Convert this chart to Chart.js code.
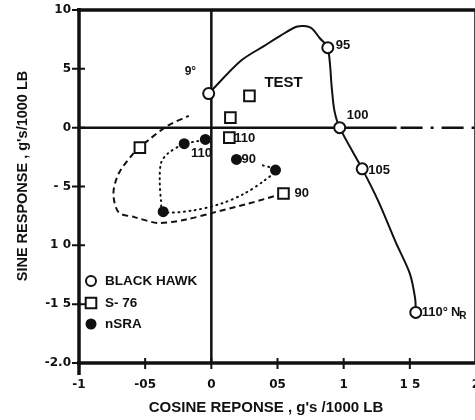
<!DOCTYPE html>
<html>
<head>
<meta charset="utf-8">
<script src="https://cdn.jsdelivr.net/npm/chart.js@4"></script>
<style>
  html, body { margin: 0; padding: 0; background: #fff; overflow: hidden; }
  canvas { display: block; }
</style>
</head>
<body>
<canvas id="chart" width="490" height="420"></canvas>
<script>
// tick labels as printed on the axes
const xTickLabels = ['-1', '-05', '0', '05', '1', '1 5', '2'];
const yTickLabels = ['-2.0', '-1 5', '1 0', '- 5', '0', '5', '10'];

// Black Hawk: rotor speed points + faired curve
const bhLabels = ['9°', '95', '100', '105', '110°'];
const bhX = [-0.02, 0.88, 0.97, 1.14, 1.545];
const bhY = [0.29, 0.68, 0.0, -0.35, -1.57];
const bhCurveX = [-0.02, 0.225, 0.40, 0.52, 0.65, 0.75, 0.82, 0.88, 0.91, 0.93, 0.97, 1.14, 1.26, 1.40, 1.50, 1.54, 1.545];
const bhCurveY = [0.29, 0.57, 0.695, 0.78, 0.86, 0.85, 0.76, 0.68, 0.34, 0.145, 0.0, -0.35, -0.62, -0.99, -1.24, -1.45, -1.57];

// S-76
const s76Labels = ['90', '', '', '110'];
const s76X = [0.545, -0.54, 0.144, 0.136];
const s76Y = [-0.56, -0.17, 0.085, -0.085];
const s76CurveX = [0.545, 0.265, 0.023, -0.19, -0.40, -0.58, -0.70, -0.74, -0.70, -0.59, -0.54, -0.48, -0.33, -0.17];
const s76CurveY = [-0.56, -0.65, -0.72, -0.78, -0.81, -0.76, -0.72, -0.56, -0.39, -0.22, -0.17, -0.11, 0.017, 0.10];
const testX = [0.288];
const testY = [0.27];

// NSRA
const nsraLabels = ['90', '', '', '', '110'];
const nsraX = [0.19, 0.485, -0.364, -0.205, -0.045];
const nsraY = [-0.27, -0.36, -0.714, -0.136, -0.10];
const nsraCurveX = [0.39, 0.485, 0.40, 0.25, 0.076, -0.15, -0.364, -0.38, -0.39, -0.38, -0.33, -0.205, -0.13, -0.045];
const nsraCurveY = [-0.32, -0.36, -0.45, -0.56, -0.645, -0.705, -0.714, -0.62, -0.45, -0.30, -0.22, -0.136, -0.12, -0.10];

const ink = '#111';
const sans = "'Liberation Sans', Arial, sans-serif";
const tickFont = { family: "'DejaVu Sans', sans-serif", size: 12, weight: 'bold' };

const pts = (xs, ys) => xs.map((x, i) => ({ x, y: ys[i] }));

// where each label sits relative to its marker (px)
const bhOffsets = [[-24, -22], [8, -2], [7, -12], [6, 2], [6, 0]];
const s76Offsets = [[11, 0], null, null, [5, 1]];
const nsraOffsets = [[5, 0], null, null, null, [-4, 14]];

const marker = (data, style, r, fill) => ({
  data, showLine: false, pointStyle: style, pointRadius: r,
  pointBackgroundColor: fill, pointBorderColor: ink, pointBorderWidth: 2
});
const curve = (data, dash, cap) => ({
  data, showLine: true, borderColor: ink, borderWidth: 2, borderDash: dash,
  borderCapStyle: cap || 'butt', pointRadius: 0, tension: 0.3, fill: false
});

// frame, zero lines and crossing tick marks
const frame = {
  id: 'frame',
  beforeDatasetsDraw(chart) {
    const { ctx, chartArea: a, scales: { x, y } } = chart;
    ctx.save();
    ctx.strokeStyle = ink;
    ctx.lineWidth = 3.5;
    ctx.beginPath();
    ctx.moveTo(a.left - 2, a.top); ctx.lineTo(a.right + 2, a.top);
    ctx.moveTo(a.left, a.top - 2); ctx.lineTo(a.left, a.bottom + 12);
    ctx.moveTo(a.left - 2, a.bottom); ctx.lineTo(a.right + 2, a.bottom);
    ctx.moveTo(a.right, a.top); ctx.lineTo(a.right, a.bottom);
    ctx.stroke();

    const x0 = x.getPixelForValue(0), y0 = y.getPixelForValue(0);
    ctx.lineWidth = 2.5;
    ctx.beginPath();
    ctx.moveTo(x0, a.top); ctx.lineTo(x0, a.bottom);
    ctx.moveTo(a.left, y0); ctx.lineTo(x.getPixelForValue(1.4), y0);
    ctx.stroke();
    ctx.setLineDash([22, 8, 3, 8]);
    ctx.beginPath();
    ctx.moveTo(x.getPixelForValue(1.4) + 4, y0); ctx.lineTo(a.right, y0);
    ctx.stroke();
    ctx.setLineDash([]);

    ctx.lineWidth = 2;
    ctx.beginPath();
    y.ticks.forEach(t => {
      const py = y.getPixelForValue(t.value);
      ctx.moveTo(a.left - 7, py); ctx.lineTo(a.left + 6, py);
    });
    x.ticks.forEach(t => {
      const px = x.getPixelForValue(t.value);
      ctx.moveTo(px, a.bottom - 5); ctx.lineTo(px, a.bottom + 6);
    });
    ctx.stroke();
    ctx.restore();
  }
};

function tag(ctx, text, px, py, font, align) {
  ctx.font = font;
  ctx.textAlign = align || 'left';
  ctx.textBaseline = 'middle';
  ctx.fillText(text, px, py);
}

// point labels, legend and axis titles
const notes = {
  id: 'notes',
  afterDatasetsDraw(chart) {
    const { ctx, chartArea: a, scales: { x, y } } = chart;
    const lblFont = 'bold 13px ' + sans;
    ctx.save();
    ctx.fillStyle = ink;

    bhLabels.forEach((t, i) => {
      const px = x.getPixelForValue(bhX[i]) + bhOffsets[i][0];
      const py = y.getPixelForValue(bhY[i]) + bhOffsets[i][1];
      tag(ctx, t, px, py, i === 0 ? 'bold 12px ' + sans : lblFont);
      if (i === bhLabels.length - 1) {
        ctx.font = lblFont;
        const w = ctx.measureText(t).width + 3;
        tag(ctx, 'N', px + w, py, lblFont);
        const wn = ctx.measureText('N').width;
        tag(ctx, 'R', px + w + wn - 1, py + 4, 'bold 10px ' + sans);
      }
    });
    s76Labels.forEach((t, i) => {
      if (!t) return;
      tag(ctx, t, x.getPixelForValue(s76X[i]) + s76Offsets[i][0],
        y.getPixelForValue(s76Y[i]) + s76Offsets[i][1], lblFont);
    });
    nsraLabels.forEach((t, i) => {
      if (!t) return;
      tag(ctx, t, x.getPixelForValue(nsraX[i]) + nsraOffsets[i][0],
        y.getPixelForValue(nsraY[i]) + nsraOffsets[i][1], lblFont, i === 4 ? 'center' : 'left');
    });
    tag(ctx, 'TEST', x.getPixelForValue(testX[0]) + 15, y.getPixelForValue(testY[0]) - 13, 'bold 15px ' + sans);

    // legend
    const lx = a.left + 12;
    const rows = [
      ['BLACK HAWK', 'circle', 5, '#fff', -82],
      ['S- 76', 'rect', 7.5, '#fff', -60],
      ['nSRA', 'circle', 4.5, ink, -39]
    ];
    rows.forEach(([text, style, r, fill, dy]) => {
      const py = a.bottom + dy;
      ctx.fillStyle = fill;
      ctx.strokeStyle = ink;
      ctx.lineWidth = 2;
      Chart.helpers.drawPoint(ctx, { pointStyle: style, radius: r, rotation: 0, borderWidth: 2 }, lx, py);
      ctx.fillStyle = ink;
      tag(ctx, text, lx + 14, py, 'bold 13.5px ' + sans);
    });

    // axis titles
    ctx.font = 'bold 15px ' + sans;
    ctx.textAlign = 'center';
    ctx.textBaseline = 'alphabetic';
    ctx.fillText("COSINE REPONSE , g's /1000 LB", 266, 412);
    ctx.translate(27, 176);
    ctx.rotate(-Math.PI / 2);
    ctx.font = 'bold 14.5px ' + sans;
    ctx.fillText("SINE RESPONSE , g's/1000 LB", 0, 0);
    ctx.restore();
  }
};

new Chart(document.getElementById('chart'), {
  type: 'scatter',
  data: {
    datasets: [
      marker(pts(bhX, bhY), 'circle', 5.5, '#fff'),
      marker(pts(s76X, s76Y), 'rect', 7.5, '#fff'),
      marker(pts(testX, testY), 'rect', 7.5, '#fff'),
      marker(pts(nsraX, nsraY), 'circle', 4.5, ink),
      curve(pts(bhCurveX, bhCurveY), []),
      curve(pts(s76CurveX, s76CurveY), [6, 4]),
      curve(pts(nsraCurveX, nsraCurveY), [1, 4.5], 'round')
    ]
  },
  options: {
    responsive: false,
    animation: false,
    events: [],
    layout: { padding: { top: 10, right: 14, left: 0, bottom: 0 } },
    plugins: { legend: { display: false }, tooltip: { enabled: false } },
    scales: {
      x: {
        type: 'linear', min: -1, max: 2,
        ticks: { stepSize: 0.5, padding: 15, maxRotation: 0, color: ink, font: tickFont,
          callback: (v, i) => xTickLabels[i] },
        grid: { display: false, drawTicks: false },
        border: { display: false },
        afterFit: s => { s.height = 57; s.paddingLeft = 0; s.paddingRight = 0; }
      },
      y: {
        type: 'linear', min: -2, max: 1,
        ticks: { stepSize: 0.5, padding: 8, color: ink, font: tickFont,
          callback: (v, i) => yTickLabels[i] },
        grid: { display: false, drawTicks: false },
        border: { display: false },
        afterFit: s => { s.width = 79; s.paddingTop = 0; s.paddingBottom = 0; }
      }
    }
  },
  plugins: [frame, notes]
});
</script>
</body>
</html>
